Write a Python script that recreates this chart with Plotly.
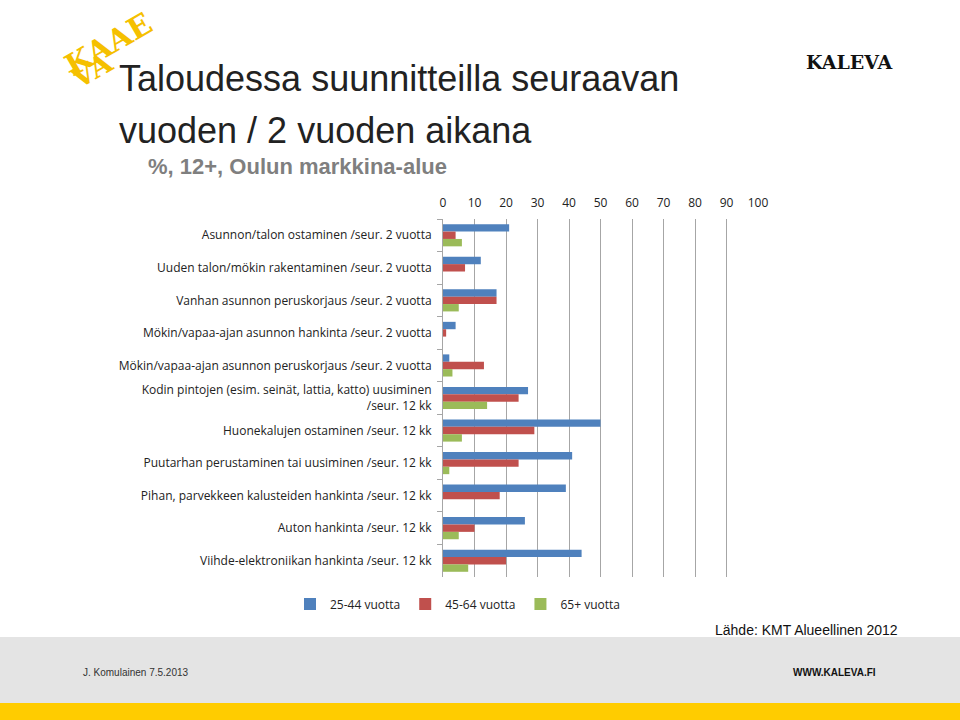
import plotly.graph_objects as go

categories = [
    "Asunnon/talon ostaminen /seur. 2 vuotta",
    "Uuden talon/mökin rakentaminen /seur. 2 vuotta",
    "Vanhan asunnon peruskorjaus /seur. 2 vuotta",
    "Mökin/vapaa-ajan asunnon hankinta /seur. 2 vuotta",
    "Mökin/vapaa-ajan asunnon peruskorjaus /seur. 2 vuotta",
    "Kodin pintojen (esim. seinät, lattia, katto) uusiminen<br>/seur. 12 kk",
    "Huonekalujen ostaminen /seur. 12 kk",
    "Puutarhan perustaminen tai uusiminen /seur. 12 kk",
    "Pihan, parvekkeen kalusteiden hankinta /seur. 12 kk",
    "Auton hankinta /seur. 12 kk",
    "Viihde-elektroniikan hankinta /seur. 12 kk",
]
series_names = ["25-44 vuotta", "45-64 vuotta", "65+ vuotta"]
values_25_44 = [21, 12, 17, 4, 2, 27, 50, 41, 39, 26, 44]
values_45_64 = [4, 7, 17, 1, 13, 24, 29, 24, 18, 10, 20]
values_65 = [6, 0, 5, 0, 3, 14, 6, 2, 0, 5, 8]
colors = ["#4F81BD", "#C0504D", "#9BBB59"]
x_ticks = [0, 10, 20, 30, 40, 50, 60, 70, 80, 90, 100]

fig = go.Figure()
for name, vals, col in zip(series_names, [values_25_44, values_45_64, values_65], colors):
    fig.add_trace(go.Bar(y=categories, x=vals, name=name, orientation="h",
                         marker=dict(color=col, line=dict(width=0))))

W, H = 960, 720
L, R, T, B = 443, 202, 219, 143
plot_w = W - L - R
plot_h = H - T - B
def px_x(x):
    return (x - L) / plot_w
def px_y(y):
    return (H - B - y) / plot_h

fig.update_layout(
    width=W, height=H,
    paper_bgcolor="white", plot_bgcolor="white",
    margin=dict(l=L, r=R, t=T, b=B, autoexpand=False),
    barmode="group", bargap=0.32, bargroupgap=0,
    font=dict(family="Open Sans, Liberation Sans, sans-serif", size=12, color="#222222"),
    showlegend=True,
    legend=dict(orientation="h", x=px_x(290), xanchor="left", xref="paper",
                y=(720 - 604) / 720, yanchor="middle", yref="container",
                font=dict(size=12, color="#222222"), traceorder="normal",
                itemwidth=30, tracegroupgap=0),
    xaxis=dict(side="top", range=[0, 100], tickvals=x_ticks, showgrid=True,
               gridcolor="#A6A6A6", gridwidth=1, zeroline=False, showline=False,
               ticks="", tickfont=dict(size=12, color="#222222"), fixedrange=True,
               ticklabelstandoff=9),
    yaxis=dict(autorange="reversed", tickson="boundaries", ticks="outside", ticklen=5,
               tickcolor="#A6A6A6", showline=True, linecolor="#A6A6A6", linewidth=1,
               showgrid=False, tickfont=dict(size=12, color="#222222"), ticklabelstandoff=8),
)

fig.add_shape(type="rect", xref="paper", yref="paper", x0=px_x(0), x1=px_x(960),
              y0=px_y(703), y1=px_y(637), fillcolor="#E4E4E4", line=dict(width=0), layer="below")
fig.add_shape(type="rect", xref="paper", yref="paper", x0=px_x(0), x1=px_x(960),
              y0=px_y(720), y1=px_y(703), fillcolor="#FFCC00", line=dict(width=0), layer="below")

def ann(text, x, y, size, color="#222222", family="Liberation Sans, Arial, sans-serif",
        xanchor="left", angle=0, bold=False):
    fig.add_annotation(text=f"<b>{text}</b>" if bold else text, x=px_x(x), y=px_y(y),
                       xref="paper", yref="paper", xanchor=xanchor, yanchor="middle",
                       showarrow=False, textangle=angle,
                       font=dict(size=size, color=color, family=family))

ann("Taloudessa suunnitteilla seuraavan", 117, 78, 36, "#222222")
ann("vuoden / 2 vuoden aikana", 117, 130, 36, "#222222")
ann("%, 12+, Oulun markkina-alue", 146, 166, 22, "#7F7F7F", bold=True)
ann("KALEVA", 849, 62, 19, "#111111", family="DejaVu Serif, serif", xanchor="center", bold=True)
ann("KAAE", 108, 44, 30, "#F5C000", family="DejaVu Serif, serif", xanchor="center", angle=-30, bold=True)
ann("VA", 92, 70, 28, "#F5C000", family="DejaVu Serif, serif", xanchor="center", angle=-30, bold=True)
ann("Lähde: KMT Alueellinen 2012", 900, 630, 14, "#111111", xanchor="right")
ann("J. Komulainen 7.5.2013", 81, 672, 10, "#333333")
ann("WWW.KALEVA.FI", 878, 672, 10, "#111111", xanchor="right", bold=True)

fig.write_html("out.html", config={"displayModeBar": False},
               post_script="document.body.style.margin='0';document.body.style.overflow='hidden';")
